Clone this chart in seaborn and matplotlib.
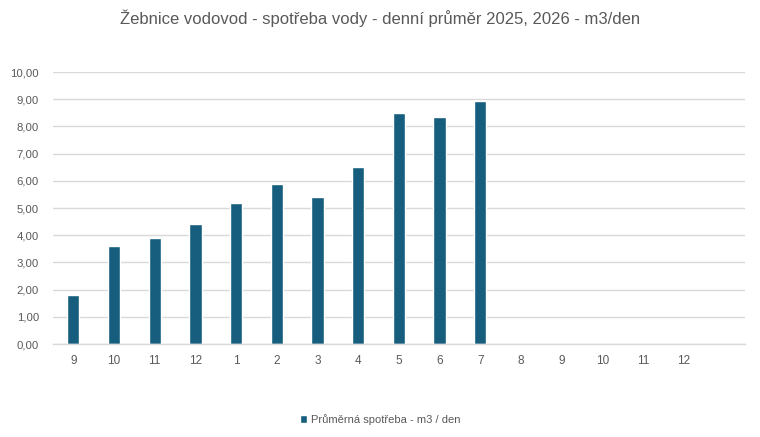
import matplotlib
matplotlib.use("Agg")
import matplotlib.pyplot as plt
import seaborn as sns
import pandas as pd
import numpy as np
from matplotlib.patches import Patch

months = ["9", "10", "11", "12", "1", "2", "3", "4", "5", "6", "7",
          "8", "9", "10", "11", "12", ""]
values = [1.8, 3.6, 3.9, 4.4, 5.2, 5.9, 5.4, 6.5, 8.5, 8.35, 8.94]
series_name = "Průměrná spotřeba - m3 / den"
title = "Žebnice vodovod - spotřeba vody - denní průměr 2025, 2026 - m3/den"

sns.set_theme(style="white")
plt.rcParams['font.family'] = ['Liberation Sans', 'DejaVu Sans']

slots = [str(i) for i in range(len(months))]
df = pd.DataFrame({"slot": slots[:len(values)], "value": values})

color = "#175e7e"
grey = "#595959"

fig = plt.figure(figsize=(7.6, 4.37), dpi=100)
ax = fig.add_axes([0.0697, 0.2128, 0.9103, 0.6222])

sns.barplot(data=df, x="slot", y="value", order=slots, color=color,
            width=0.3, saturation=1, errorbar=None, ax=ax)

ax.set_ylim(0, 10)
ax.set_xlim(-0.5, len(months) - 0.5)
ax.set_yticks(np.arange(0, 10.01, 1))
ax.set_yticklabels([f"{v:.2f}".replace(".", ",") for v in np.arange(0, 10.01, 1)],
                   fontsize=8.2, color=grey)
ax.set_xticks(range(len(months)))
ax.set_xticklabels(months, fontsize=8.5, color=grey)
ax.tick_params(axis='both', length=0)
ax.tick_params(axis='y', pad=10)
ax.tick_params(axis='x', pad=8)
ax.set_xlabel("")
ax.set_ylabel("")
ax.yaxis.grid(True, color="#d9d9d9", linewidth=1)
ax.set_axisbelow(True)
for s in ["top", "right", "left"]:
    ax.spines[s].set_visible(False)
ax.spines["bottom"].set_color("#d9d9d9")
ax.spines["bottom"].set_linewidth(1)

fig.text(0.5, 0.958, title, ha="center", va="center", fontsize=12, color=grey)

fig.legend(handles=[Patch(facecolor=color, label=series_name)],
           loc="center", bbox_to_anchor=(0.5, 0.041), frameon=False,
           fontsize=8, handlelength=0.7, handleheight=0.7, handletextpad=0.3,
           labelcolor=grey)

fig.savefig("out.png", dpi=100)
